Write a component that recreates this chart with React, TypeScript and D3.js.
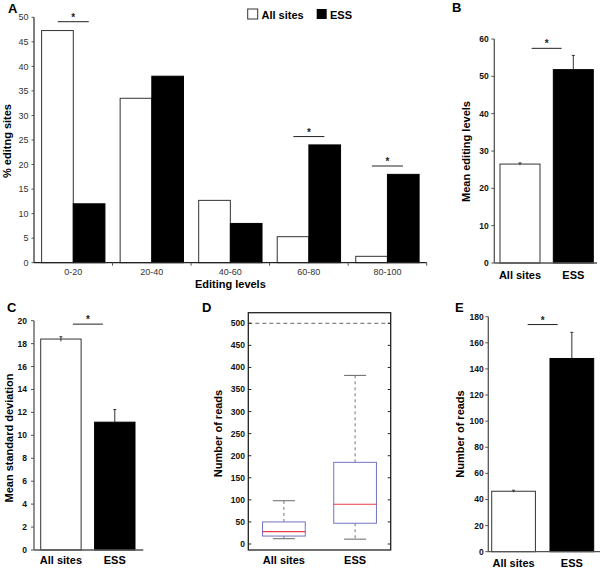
import React from "react";
import * as d3 from "d3";

// ---------- DATA ----------
const editingCategories = ["0-20", "20-40", "40-60", "60-80", "80-100"];
const allSitesPct = [47.3, 33.5, 12.7, 5.3, 1.3];
const essPct = [12, 38, 8, 24, 18];
const sigCategoriesA = ["0-20", "60-80", "80-100"];
const sigLevelsA = [49.1, 25.7, 19.7];
const percentTicks = [0, 5, 10, 15, 20, 25, 30, 35, 40, 45, 50];

const groups = ["All sites", "ESS"];

const meanEditingLevels = [26.5, 51.8];
const meanEditingErr = [0.3, 3.8];
const editingTicks = [0, 10, 20, 30, 40, 50, 60];

const meanStdDev = [18.4, 11.15];
const meanStdDevErr = [0.2, 1.1];
const stdTicks = [0, 2, 4, 6, 8, 10, 12, 14, 16, 18, 20];

const readsWhiskerLow = [12, 11];
const readsQ1 = [18, 47];
const readsMedian = [28, 90];
const readsQ3 = [50, 185];
const readsWhiskerHigh = [98, 382];
const readsCutoff = 500;
const boxTicks = [0, 50, 100, 150, 200, 250, 300, 350, 400, 450, 500];

const meanReads = [46.3, 148];
const meanReadsErr = [0.8, 20];
const readsTicks = [0, 20, 40, 60, 80, 100, 120, 140, 160, 180];

// ---------- STYLE ----------
const FONT = "'Liberation Sans', Arial, Helvetica, sans-serif";
const AXIS = "#555";

function Star({ x, y }: { x: number; y: number }) {
  return (
    <text x={x} y={y} textAnchor="middle" fontSize={10} fontWeight="bold" fill="#222">
      *
    </text>
  );
}

function RotTitle({ x, y, text }: { x: number; y: number; text: string }) {
  return (
    <text
      transform={`translate(${x},${y}) rotate(-90)`}
      textAnchor="middle"
      fontSize={11}
      fontWeight="bold"
      fill="#000"
    >
      {text}
    </text>
  );
}

function PanelLetter({ x, y, t }: { x: number; y: number; t: string }) {
  return (
    <text x={x} y={y} fontSize={13} fontWeight="bold" fill="#000">
      {t}
    </text>
  );
}

type BarProps = {
  letter: string;
  letterX: number;
  letterY: number;
  values: number[];
  errs: number[];
  ticks: number[];
  axisX: number;
  axisEnd: number;
  yTop: number;
  yBottom: number;
  barStart: number;
  barEnd: number;
  sigLevel: number;
  title: string;
  titleX: number;
  titleY: number;
  labelGap: number;
  xLabelY: number;
};

function BarPanel(p: BarProps) {
  const max = p.ticks[p.ticks.length - 1];
  const y = d3.scaleLinear().domain([0, max]).range([p.yBottom, p.yTop]);
  const x = d3.scaleBand().domain(groups).range([p.barStart, p.barEnd]).paddingInner(0.25).paddingOuter(0);
  const bw = x.bandwidth();
  const gapCenter = ((x("All sites") as number) + bw + (x("ESS") as number)) / 2;
  const sy = y(p.sigLevel);
  return (
    <g>
      <PanelLetter x={p.letterX} y={p.letterY} t={p.letter} />
      {groups.map((g, i) => {
        const x0 = x(g) as number;
        const cx = x0 + bw / 2;
        const top = y(p.values[i]);
        const errTop = y(p.values[i] + p.errs[i]);
        const errBottom = y(p.values[i] - p.errs[i]);
        const dark = i !== 0;
        return (
          <g key={g}>
            <rect
              x={x0}
              y={top}
              width={bw}
              height={p.yBottom - top}
              fill={dark ? "#000" : "#fff"}
              stroke={dark ? "#000" : "#333"}
              strokeWidth={1}
            />
            <line x1={cx} x2={cx} y1={dark ? top : errBottom} y2={errTop} stroke="#333" strokeWidth={1} />
            <line x1={cx - 1.5} x2={cx + 1.5} y1={errTop} y2={errTop} stroke="#333" strokeWidth={1} />
            <text x={cx} y={p.xLabelY} textAnchor="middle" fontSize={11} fontWeight="bold" fill="#000">
              {g}
            </text>
          </g>
        );
      })}
      {/* axes */}
      <line x1={p.axisX} x2={p.axisX} y1={p.yTop} y2={p.yBottom} stroke={AXIS} strokeWidth={1.3} />
      <line x1={p.axisX} x2={p.axisEnd} y1={p.yBottom} y2={p.yBottom} stroke={AXIS} strokeWidth={1.3} />
      {p.ticks.map((t) => (
        <g key={t}>
          <line x1={p.axisX - 3} x2={p.axisX} y1={y(t)} y2={y(t)} stroke={AXIS} strokeWidth={1} />
          <text x={p.axisX - p.labelGap} y={y(t)} dy="0.35em" textAnchor="end" fontSize={8.5} fontWeight="bold" fill="#111">
            {t}
          </text>
        </g>
      ))}
      <line x1={gapCenter - 15} x2={gapCenter + 15} y1={sy} y2={sy} stroke="#222" strokeWidth={1} />
      <Star x={gapCenter} y={sy - 1} />
      <RotTitle x={p.titleX} y={p.titleY} text={p.title} />
    </g>
  );
}

function PanelA() {
  const yTop = 17.3;
  const yBottom = 262.7;
  const axisX = 34;
  const axisEnd = 426.7;
  const y = d3.scaleLinear().domain([0, 50]).range([yBottom, yTop]);
  const x = d3.scaleBand().domain(editingCategories).range([axisX, axisEnd]);
  const inner = d3.scaleBand().domain(groups).range([0, x.bandwidth()]).paddingInner(0).paddingOuter(0.24);
  const bw = inner.bandwidth();
  const series = [allSitesPct, essPct];
  return (
    <g>
      <PanelLetter x={8} y={13} t="A" />
      {editingCategories.map((c, ci) => (
        <g key={c}>
          {groups.map((g, gi) => {
            const x0 = (x(c) as number) + (inner(g) as number);
            const top = y(series[gi][ci]);
            return (
              <rect
                key={g}
                x={x0}
                y={top}
                width={bw}
                height={yBottom - top}
                fill={gi === 0 ? "#fff" : "#000"}
                stroke={gi === 0 ? "#333" : "#000"}
                strokeWidth={1}
              />
            );
          })}
          <text x={(x(c) as number) + x.bandwidth() / 2} y={274.5} textAnchor="middle" fontSize={9} fill="#333">
            {c}
          </text>
        </g>
      ))}
      <line x1={axisX} x2={axisX} y1={yTop} y2={yBottom} stroke={AXIS} strokeWidth={1.5} />
      <line x1={axisX} x2={axisEnd} y1={yBottom} y2={yBottom} stroke="#222" strokeWidth={1.3} />
      {editingCategories.map((c) => (
        <line key={c} x1={(x(c) as number) + x.bandwidth()} x2={(x(c) as number) + x.bandwidth()} y1={yBottom} y2={yBottom + 3} stroke={AXIS} strokeWidth={1} />
      ))}
      {percentTicks.map((t) => (
        <g key={t}>
          <line x1={axisX - 2.5} x2={axisX} y1={y(t)} y2={y(t)} stroke={AXIS} strokeWidth={1} />
          <text x={28.5} y={y(t)} dy="0.35em" textAnchor="end" fontSize={9} fill="#333">
            {t}
          </text>
        </g>
      ))}
      {sigCategoriesA.map((c, i) => {
        const cx = (x(c) as number) + x.bandwidth() / 2;
        const sy = y(sigLevelsA[i]);
        return (
          <g key={c}>
            <line x1={cx - 15.5} x2={cx + 15.5} y1={sy} y2={sy} stroke="#222" strokeWidth={1} />
            <Star x={cx} y={sy - 1} />
          </g>
        );
      })}
      <text x={(axisX + axisEnd) / 2} y={288} textAnchor="middle" fontSize={11} fontWeight="bold" fill="#000">
        Editing levels
      </text>
      <RotTitle x={11} y={141} text="% editng sites" />
      {/* legend */}
      <rect x={247.7} y={9} width={10} height={10} fill="#fff" stroke="#333" strokeWidth={1} />
      <text x={261.5} y={18.5} fontSize={11} fontWeight="bold" fill="#000">
        {groups[0]}
      </text>
      <rect x={316.7} y={9} width={10} height={10} fill="#000" />
      <text x={330} y={18.5} fontSize={11} fontWeight="bold" fill="#000">
        {groups[1]}
      </text>
    </g>
  );
}

function PanelD() {
  const left = 248.3;
  const right = 390.7;
  const top = 312.7;
  const bottom = 550;
  const y = d3.scaleLinear().domain([0, 500]).range([544, 323.3]);
  const x = d3.scaleBand().domain(groups).range([left, right]).paddingInner(0.4).paddingOuter(0.2);
  const bw = x.bandwidth();
  return (
    <g>
      <PanelLetter x={202} y={312} t="D" />
      <line x1={left} x2={right} y1={y(readsCutoff)} y2={y(readsCutoff)} stroke="#666" strokeWidth={1} strokeDasharray="4,3" />
      {groups.map((g, i) => {
        const x0 = x(g) as number;
        const cx = x0 + bw / 2;
        const capW = 11;
        return (
          <g key={g}>
            <line x1={cx} x2={cx} y1={y(readsQ3[i])} y2={y(readsWhiskerHigh[i])} stroke="#777" strokeWidth={1} strokeDasharray="3,3" />
            <line x1={cx} x2={cx} y1={y(readsQ1[i])} y2={y(readsWhiskerLow[i])} stroke="#777" strokeWidth={1} strokeDasharray="3,3" />
            <line x1={cx - capW} x2={cx + capW} y1={y(readsWhiskerHigh[i])} y2={y(readsWhiskerHigh[i])} stroke="#666" strokeWidth={1} />
            <line x1={cx - capW} x2={cx + capW} y1={y(readsWhiskerLow[i])} y2={y(readsWhiskerLow[i])} stroke="#666" strokeWidth={1} />
            <rect x={x0} y={y(readsQ3[i])} width={bw} height={y(readsQ1[i]) - y(readsQ3[i])} fill="none" stroke="#7373c4" strokeWidth={1} />
            <line x1={x0} x2={x0 + bw} y1={y(readsMedian[i])} y2={y(readsMedian[i])} stroke="#ee3b4a" strokeWidth={1.2} />
            <text x={cx} y={564} textAnchor="middle" fontSize={11} fontWeight="bold" fill="#000">
              {g}
            </text>
          </g>
        );
      })}
      <rect x={left} y={top} width={right - left} height={bottom - top} fill="none" stroke="#222" strokeWidth={1.3} />
      {boxTicks.map((t) => (
        <g key={t}>
          <line x1={left} x2={left + 3} y1={y(t)} y2={y(t)} stroke="#222" strokeWidth={1} />
          <line x1={right - 3} x2={right} y1={y(t)} y2={y(t)} stroke="#222" strokeWidth={1} />
          <text x={245} y={y(t)} dy="0.35em" textAnchor="end" fontSize={8.5} fontWeight="bold" fill="#111">
            {t}
          </text>
        </g>
      ))}
      <RotTitle x={221.5} y={433.5} text="Number of reads" />
    </g>
  );
}

export default function App() {
  return (
    <svg
      width={600}
      height={570}
      viewBox="0 0 600 570"
      style={{ position: "absolute", left: 0, top: 0, background: "#fff", fontFamily: FONT }}
      fontFamily={FONT}
    >
      <rect x={0} y={0} width={600} height={570} fill="#fff" />
      <PanelA />
      <BarPanel
        letter="B"
        letterX={452}
        letterY={12}
        values={meanEditingLevels}
        errs={meanEditingErr}
        ticks={editingTicks}
        axisX={494.3}
        axisEnd={597}
        yTop={39}
        yBottom={263}
        barStart={500}
        barEnd={593.3}
        sigLevel={57.5}
        title="Mean editing levels"
        titleX={469.5}
        titleY={151.5}
        labelGap={5.5}
        xLabelY={279}
      />
      <BarPanel
        letter="C"
        letterX={7}
        letterY={312}
        values={meanStdDev}
        errs={meanStdDevErr}
        ticks={stdTicks}
        axisX={34}
        axisEnd={143.3}
        yTop={320.7}
        yBottom={550}
        barStart={40.7}
        barEnd={135}
        sigLevel={19.7}
        title="Mean standard deviation"
        titleX={12.5}
        titleY={438}
        labelGap={7}
        xLabelY={564}
      />
      <PanelD />
      <BarPanel
        letter="E"
        letterX={455}
        letterY={312}
        values={meanReads}
        errs={meanReadsErr}
        ticks={readsTicks}
        axisX={488.3}
        axisEnd={600}
        yTop={316.7}
        yBottom={551.7}
        barStart={491.7}
        barEnd={593.7}
        sigLevel={174}
        title="Number of reads"
        titleX={464}
        titleY={434}
        labelGap={4.5}
        xLabelY={567}
      />
    </svg>
  );
}
